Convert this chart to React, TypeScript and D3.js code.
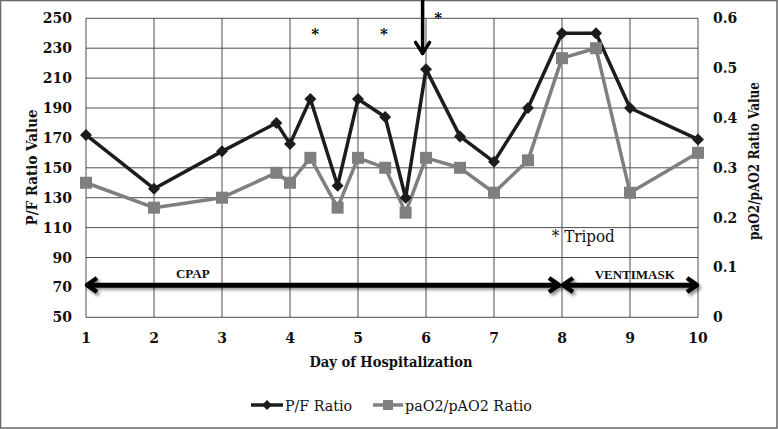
import React from "react";
import * as d3 from "d3";

const days = [1, 2, 3, 3.8, 4, 4.3, 4.7, 5, 5.4, 5.7, 6, 6.5, 7, 7.5, 8, 8.5, 9, 10];
const pfRatio = [172, 136, 161, 180, 166, 196, 138, 196, 184, 130, 216, 171, 154, 190, 240, 240, 190, 169];
const paRatio = [0.27, 0.22, 0.24, 0.29, 0.27, 0.32, 0.22, 0.32, 0.30, 0.21, 0.32, 0.30, 0.25, 0.315, 0.52, 0.54, 0.25, 0.33];
const xTicks = [1, 2, 3, 4, 5, 6, 7, 8, 9, 10];
const leftTicks = [50, 70, 90, 110, 130, 150, 170, 190, 210, 230, 250];
const rightTicks = [0, 0.1, 0.2, 0.3, 0.4, 0.5, 0.6];
const tripodDays = [4.37, 5.38];

const W = 778;
const H = 429;
const FONT = "'DejaVu Serif', 'Liberation Serif', serif";

export default function App() {
  const x = d3.scaleLinear().domain([1, 10]).range([86, 698]);
  const yL = d3.scaleLinear().domain([50, 250]).range([317.3, 18.3]);
  const yR = d3.scaleLinear().domain([0, 0.6]).range([317.3, 18.3]);

  const pfLine = d3.line<number>().x((_, i) => x(days[i])).y((d) => yL(d));
  const paLine = d3.line<number>().x((_, i) => x(days[i])).y((d) => yR(d));

  const arrowY = yL(71.6);
  const diamond = (cx: number, cy: number, r: number) =>
    `M${cx},${cy - r}L${cx + r},${cy}L${cx},${cy + r}L${cx - r},${cy}Z`;
  const chevLeft = (x0: number, y0: number) => `M${x0 + 11},${y0 - 7}L${x0 + 1},${y0}L${x0 + 11},${y0 + 7}`;
  const chevRight = (x0: number, y0: number) => `M${x0 - 11},${y0 - 7}L${x0 - 1},${y0}L${x0 - 11},${y0 + 7}`;

  const arrowX = x(5.95);
  const arrowTip = yL(226.5);

  return (
    <svg width={W} height={H} style={{ position: "absolute", left: 0, top: 0, background: "#fff" }} fontFamily={FONT}>
      <defs>
        <filter id="shadow" x="-5%" y="-100%" width="110%" height="300%">
          <feDropShadow dx="2" dy="2.5" stdDeviation="1.6" floodColor="#000" floodOpacity="0.45" />
        </filter>
      </defs>
      <rect x={0} y={0} width={W} height={H} fill="#fff" />
      <rect x={0.5} y={0.5} width={W - 1.5} height={H - 1.5} fill="none" stroke="#666" strokeWidth={1.5} />

      {/* grid */}
      {leftTicks.map((t) => (
        <line key={"h" + t} x1={x(1)} x2={x(10)} y1={yL(t)} y2={yL(t)} stroke="#4d4d4d" strokeWidth={1} />
      ))}
      {xTicks.map((t) => (
        <line key={"v" + t} x1={x(t)} x2={x(t)} y1={yL(50)} y2={yL(250)} stroke="#4d4d4d" strokeWidth={1} />
      ))}

      {/* left ticks */}
      {leftTicks.map((t) => (
        <text key={"lt" + t} x={72} y={yL(t) + 5} textAnchor="end" fontSize={14} fontWeight="bold" fill="#111">
          {t}
        </text>
      ))}
      {/* right ticks */}
      {rightTicks.map((t) => (
        <text key={"rt" + t} x={713} y={yR(t) + 5} textAnchor="start" fontSize={14} fontWeight="bold" fill="#111">
          {t === 0 ? "0" : t.toFixed(1)}
        </text>
      ))}
      {/* x ticks */}
      {xTicks.map((t) => (
        <text key={"xt" + t} x={x(t)} y={343} textAnchor="middle" fontSize={14} fontWeight="bold" fill="#111">
          {t}
        </text>
      ))}

      <text x={391} y={366.5} textAnchor="middle" fontSize={15} fontWeight="bold" fill="#111" textLength={163} lengthAdjust="spacingAndGlyphs">
        Day of Hospitalization
      </text>
      <text transform={`translate(37,167.5) rotate(-90)`} textAnchor="middle" fontSize={15} fontWeight="bold" fill="#111" textLength={116} lengthAdjust="spacingAndGlyphs">
        P/F Ratio Value
      </text>
      <text transform={`translate(759,161) rotate(-90)`} textAnchor="middle" fontSize={15} fontWeight="bold" fill="#111" textLength={158} lengthAdjust="spacingAndGlyphs">
        paO2/pAO2 Ratio Value
      </text>

      {/* series */}
      <path d={paLine(paRatio) || ""} fill="none" stroke="#7f7f7f" strokeWidth={3.5} strokeLinejoin="round" />
      <path d={pfLine(pfRatio) || ""} fill="none" stroke="#1c1c1c" strokeWidth={3.5} strokeLinejoin="round" />
      {paRatio.map((v, i) => (
        <rect key={"s" + i} x={x(days[i]) - 6} y={yR(v) - 6} width={12} height={12} fill="#7f7f7f" />
      ))}
      {pfRatio.map((v, i) => (
        <path key={"d" + i} d={diamond(x(days[i]), yL(v), 6)} fill="#1c1c1c" />
      ))}

      {/* annotations */}
      {tripodDays.map((d) => (
        <text key={"ast" + d} x={x(d)} y={yL(242) + 9} textAnchor="middle" fontSize={15} fontWeight="bold" fill="#000">
          *
        </text>
      ))}
      <text x={x(6.18)} y={yL(253) + 9} textAnchor="middle" fontSize={15} fontWeight="bold" fill="#000">
        *
      </text>
      <g stroke="#000" strokeWidth={3.5} fill="none" strokeLinecap="round" strokeLinejoin="round">
        <line x1={arrowX} x2={arrowX} y1={0} y2={arrowTip} />
        <path d={`M${arrowX - 7},${arrowTip - 11}L${arrowX},${arrowTip}L${arrowX + 7},${arrowTip - 11}`} />
      </g>
      <text x={x(7.85)} y={242} textAnchor="start" fontSize={16} fill="#111" textLength={63} lengthAdjust="spacingAndGlyphs">
        * Tripod
      </text>

      <g filter="url(#shadow)" stroke="#000" strokeWidth={4.5} fill="none" strokeLinejoin="round">
        <line x1={x(1) + 1} x2={x(8) - 3} y1={arrowY} y2={arrowY} />
        <path d={chevLeft(x(1), arrowY)} />
        <path d={chevRight(x(8) - 2, arrowY)} />
        <line x1={x(8) + 1} x2={x(10) - 1} y1={arrowY} y2={arrowY} />
        <path d={chevLeft(x(8), arrowY)} />
        <path d={chevRight(x(10), arrowY)} />
      </g>
      <text x={x(2.57)} y={278} textAnchor="middle" fontSize={13} fontWeight="bold" fill="#111" fontFamily="'Liberation Serif', serif">
        CPAP
      </text>
      <text x={x(9.07)} y={279} textAnchor="middle" fontSize={13} fontWeight="bold" fill="#111" fontFamily="'Liberation Serif', serif">
        VENTIMASK
      </text>

      {/* legend */}
      <g>
        <line x1={251} x2={283} y1={405} y2={405} stroke="#1c1c1c" strokeWidth={3.5} />
        <path d={diamond(267, 405, 5)} fill="#1c1c1c" />
        <text x={285} y={411} fontSize={15.5} fill="#111" textLength={67} lengthAdjust="spacingAndGlyphs">P/F Ratio</text>
        <line x1={373} x2={403} y1={405} y2={405} stroke="#7f7f7f" strokeWidth={3.5} />
        <rect x={383} y={400} width={10} height={10} fill="#7f7f7f" />
        <text x={405} y={411} fontSize={15.5} fill="#111" textLength={127} lengthAdjust="spacingAndGlyphs">paO2/pAO2 Ratio</text>
      </g>
    </svg>
  );
}
